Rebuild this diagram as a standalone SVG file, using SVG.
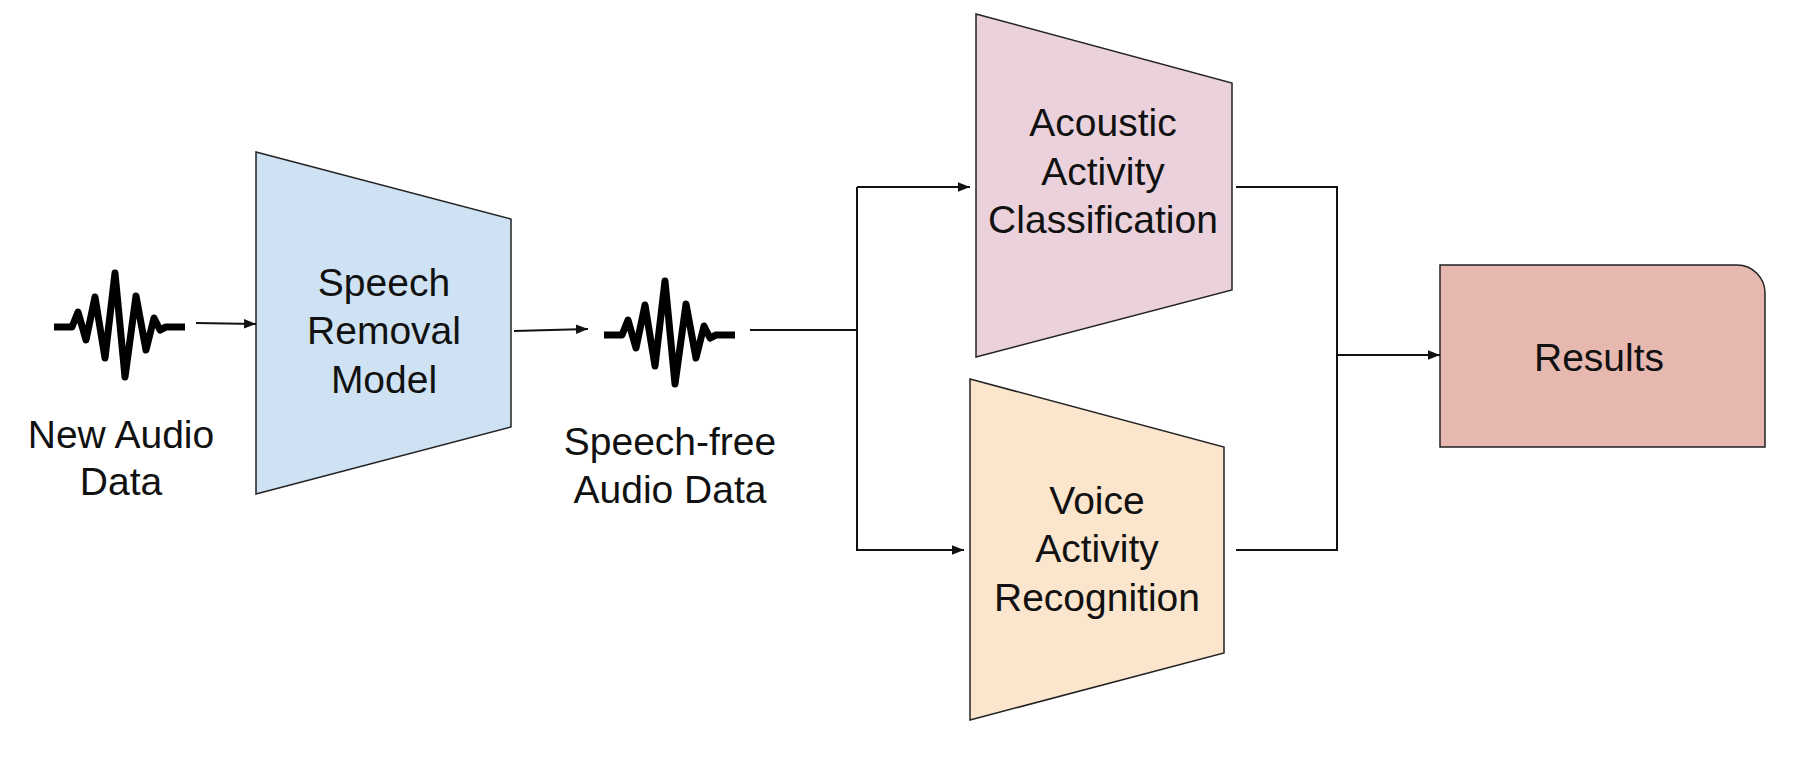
<svg xmlns="http://www.w3.org/2000/svg" width="1800" height="776" viewBox="0 0 1800 776">
<style>
.n{stroke:#222;stroke-width:1.5}
.t{font-family:"Liberation Sans",Arial,sans-serif;font-size:39px;fill:#111;text-anchor:middle}
.c{fill:none;stroke:#111;stroke-width:2}
.w{fill:none;stroke:#000;stroke-width:7;stroke-linejoin:round}
</style>
<defs><marker id="a" viewBox="0 0 10 10" refX="10" refY="5" markerWidth="6" markerHeight="6" orient="auto"><path d="M0,1L10,5L0,9z" fill="#111"/></marker></defs>
<rect width="1800" height="776" fill="#fff"/>
<g id="wave1"><path class="w" d="M54,327H72L78,312L86,340L95,297L105,358L115,273L125,377L136,296L146,350L154,318L160,330L166,327H185"/></g>
<g id="wave2"><path class="w" d="M604,335H622L628,320L636,348L645,305L655,366L665,281L675,384L686,304L696,358L704,326L710,338L716,335H735"/></g>
<g id="speech"><path class="n" fill="#cfe2f3" d="M256,152L511,219V427L256,494Z"/><text class="t" x="384" y="296">Speech</text><text class="t" x="384" y="344">Removal</text><text class="t" x="384" y="393">Model</text></g>
<g id="acoustic"><path class="n" fill="#ead1dc" d="M976,14L1232,83V290L976,357Z"/><text class="t" x="1103" y="136">Acoustic</text><text class="t" x="1103" y="185">Activity</text><text class="t" x="1103" y="233">Classification</text></g>
<g id="voice"><path class="n" fill="#fce5cd" d="M970,379L1224,447V653L970,720Z"/><text class="t" x="1097" y="514">Voice</text><text class="t" x="1097" y="562">Activity</text><text class="t" x="1097" y="611">Recognition</text></g>
<g id="results"><path class="n" fill="#e6b8af" d="M1440,265H1737A28,28 0 0 1 1765,293V447H1440Z"/><text class="t" x="1599" y="371">Results</text></g>
<g id="labels"><text class="t" x="121" y="448">New Audio</text><text class="t" x="121" y="495">Data</text><text class="t" x="670" y="455">Speech-free</text><text class="t" x="670" y="503">Audio Data</text></g>
<g id="connectors">
<path class="c" d="M196,323L256,324" marker-end="url(#a)"/>
<path class="c" d="M514,331L588,329" marker-end="url(#a)"/>
<path class="c" d="M750,330H857" stroke-width="3"/>
<path class="c" d="M857,187V550H964" marker-end="url(#a)"/>
<path class="c" d="M857,187H970" marker-end="url(#a)"/>
<path class="c" d="M1236,187H1337V550H1236"/>
<path class="c" d="M1337,355H1440" marker-end="url(#a)"/>
</g>
</svg>
